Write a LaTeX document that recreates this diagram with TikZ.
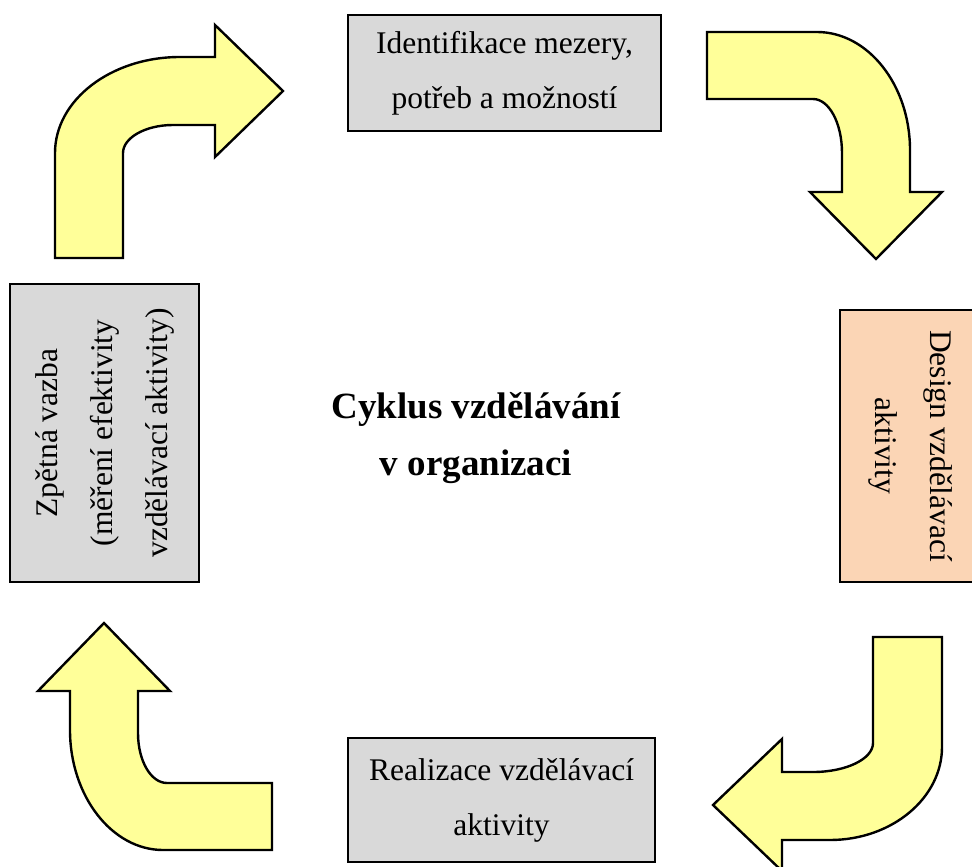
\documentclass[tikz,border=0pt]{standalone}
\usepackage{fontspec}
\setmainfont{Liberation Serif}
\definecolor{arrowyellow}{HTML}{FFFF99}
\definecolor{boxgray}{HTML}{D9D9D9}
\definecolor{boxpeach}{HTML}{FBD5B5}
\tikzset{
  bentarrow/.style={draw=black, fill=arrowyellow, line width=2.4pt, line join=miter},
  box/.style={draw=black, line width=2.6pt, inner sep=0pt, align=center,
    font=\fontsize{31.5}{55}\selectfont},
  graybox/.style={box, fill=boxgray},
  peachbox/.style={box, fill=boxpeach},
  title/.style={align=center, font=\fontsize{37}{57}\selectfont\bfseries}
}
\begin{document}
\begin{tikzpicture}[x=1pt,y=-1pt]
\clip (0,0) rectangle (972,867);
\fill[white] (0,0) rectangle (972,867);

% boxes
\node[graybox, minimum width=313, minimum height=116] (ident) at (504.5,73)
  {Identifikace mezery,\\potřeb a možností};
\node[peachbox, rotate=-90, minimum width=272, minimum height=142] (design) at (911,446)
  {Design vzdělávací\\aktivity};
\node[graybox, minimum width=307, minimum height=124] (real) at (501.5,800)
  {Realizace vzdělávací\\aktivity};
\node[graybox, rotate=90, minimum width=298, minimum height=189] (feed) at (104.5,433)
  {Zpětná vazba\\(měření efektivity\\vzdělávací aktivity)};
\node[title] (center) at (476,438) {Cyklus vzdělávání\\v organizaci};

% arrow 1: top-left (feedback -> identification)
\draw[bentarrow] (55,258) -- (55,153)
  .. controls (55,100) and (111,57) .. (180,57)
  -- (215,57) -- (215,25) -- (283,91) -- (215,157) -- (215,125) -- (173,125)
  .. controls (145,125) and (123,138) .. (123,153)
  -- (123,258) -- cycle;

% arrow 2: top-right (identification -> design)
\draw[bentarrow] (707,32) -- (817,32)
  .. controls (868,32) and (910,85) .. (910,150)
  -- (910,192) -- (942,192) -- (876,259) -- (810,192) -- (842,192) -- (842,153)
  .. controls (842,123) and (829,99) .. (813,99)
  -- (707,99) -- cycle;

% arrow 3: bottom-right (design -> realization)
\draw[bentarrow] (873,637) -- (942,637) -- (942,747)
  .. controls (942,798) and (892,840) .. (830,840)
  -- (782,840) -- (782,871) -- (713,805) -- (782,739) -- (782,772) -- (813,772)
  .. controls (846,772) and (873,759) .. (873,743)
  -- cycle;

% arrow 4: bottom-left (realization -> feedback)
\draw[bentarrow] (104,623) -- (170,691) -- (138,691) -- (138,733)
  .. controls (138,761) and (151,783) .. (167,783)
  -- (272,783) -- (272,850) -- (163,850)
  .. controls (112,850) and (70,796) .. (70,730)
  -- (70,691) -- (38,691) -- cycle;
\end{tikzpicture}
\end{document}
